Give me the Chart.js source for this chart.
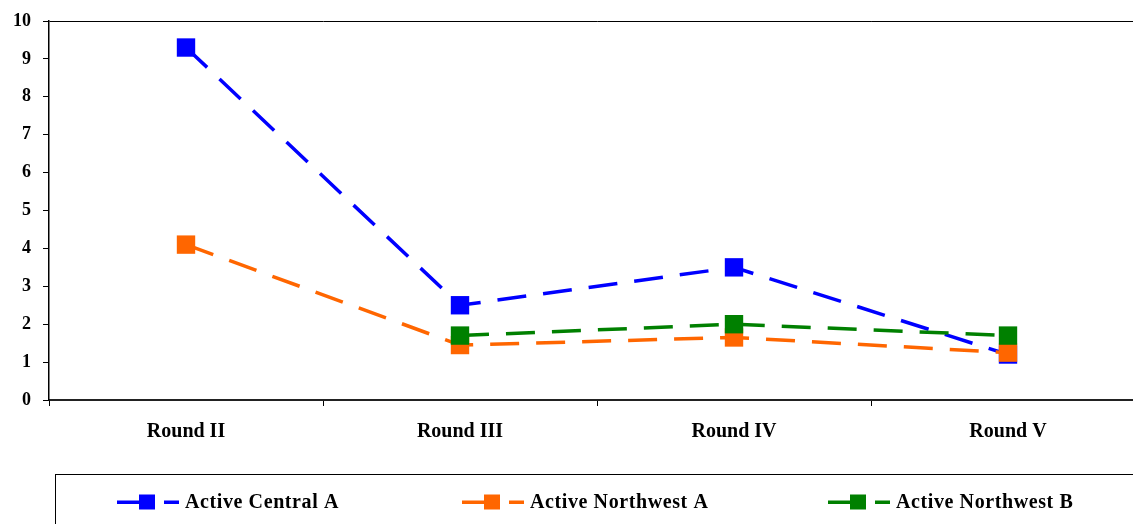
<!DOCTYPE html>
<html>
<head>
<meta charset="utf-8">
<script src="https://cdn.jsdelivr.net/npm/chart.js"></script>
<style>
  html, body { margin: 0; padding: 0; overflow: hidden; background: #fff; }
  #contenedor { width: 1160px; height: 524px; position: relative; }
</style>
</head>
<body>
<div id="contenedor"><canvas id="grafica"></canvas></div>
<script>
const rondas = ["Round II", "Round III", "Round IV", "Round V"];
const series = ["Active Central A", "Active Northwest A", "Active Northwest B"];
const centralA = [9.3, 2.5, 3.5, 1.2];
const northwestA = [4.1, 1.45, 1.65, 1.25];
const northwestB = [null, 1.7, 2.0, 1.7];

const fuente = "'Liberation Serif', 'Times New Roman', serif";
const colores = ["#0000FF", "#FF6600", "#008000"];

// leyenda dibujada a mano: linea + cuadro + guion, con recuadro
const leyenda = {
  id: "leyenda",
  afterDraw(chart) {
    const ctx = chart.ctx;
    ctx.save();
    ctx.strokeStyle = "#000";
    ctx.lineWidth = 1;
    ctx.strokeRect(55.5, 474.5, chart.width, 80);
    const inicio = [117, 462, 828];
    const y = 502;
    chart.data.datasets.forEach((ds, i) => {
      const x = inicio[i];
      ctx.fillStyle = ds.borderColor;
      ctx.fillRect(x, y - 1.5, 24, 3.5);
      ctx.fillRect(x + 22, y - 7.5, 16, 15);
      ctx.fillRect(x + 47, y - 1.5, 15, 3.5);
      ctx.fillStyle = "#000";
      ctx.font = "bold 20px " + fuente;
      ctx.letterSpacing = "0.6px";
      ctx.textBaseline = "middle";
      ctx.fillText(ds.label, x + 68, y + 1);
    });
    ctx.restore();
  },
};

const datos = [centralA, northwestA, northwestB];

new Chart(document.getElementById("grafica"), {
  type: "line",
  data: {
    labels: rondas,
    datasets: series.map((nombre, i) => ({
      label: nombre,
      data: datos[i],
      borderColor: colores[i],
      backgroundColor: colores[i],
      borderWidth: 3.5,
      borderDash: [29, 17],
      pointStyle: "rect",
      pointRadius: 13,
      pointBorderWidth: 0,
      pointBackgroundColor: colores[i],
      tension: 0,
      order: 3 - i,
    })),
  },
  options: {
    responsive: true,
    maintainAspectRatio: false,
    animation: false,
    layout: {
      padding: { top: 12, left: 1, right: 15, bottom: 66 },
    },
    scales: {
      x: {
        offset: true,
        grid: {
          offset: true,
          drawOnChartArea: false,
          tickLength: 6,
          tickColor: "#000",
        },
        border: { display: true, color: "#222", width: 2 },
        ticks: {
          color: "#000",
          padding: 14,
          font: { size: 20, weight: "bold", family: fuente },
        },
      },
      y: {
        min: 0,
        max: 10,
        ticks: {
          stepSize: 1,
          color: "#000",
          padding: 12,
          font: { size: 18, weight: "bold", family: fuente, lineHeight: 1 },
        },
        grid: {
          // solo la linea de arriba (borde del area)
          color: (c) => (c.tick && c.tick.value === 10 ? "#000" : "rgba(0,0,0,0)"),
          tickColor: "#000",
          tickLength: 6,
        },
        border: { display: true, color: "#000", width: 1.5 },
      },
    },
    plugins: {
      legend: { display: false },
      tooltip: { enabled: false },
    },
  },
  plugins: [leyenda],
});
</script>
</body>
</html>
